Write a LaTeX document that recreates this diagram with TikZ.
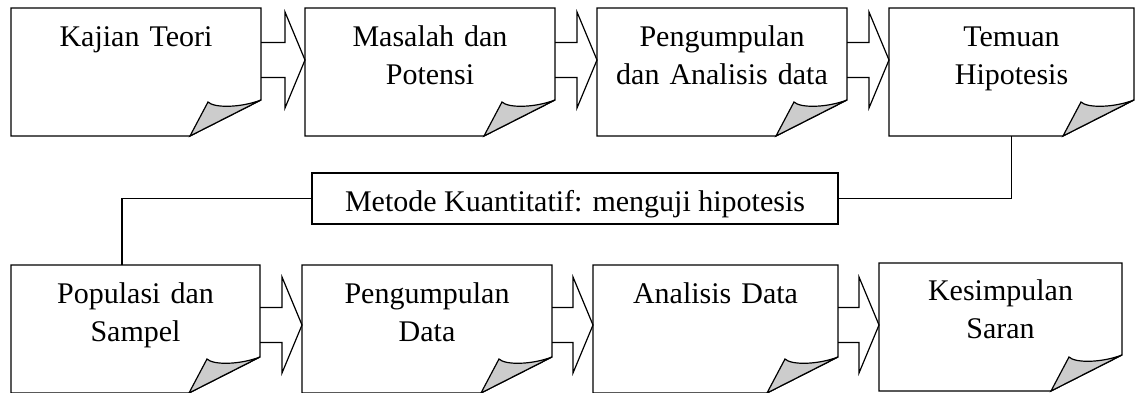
\documentclass[tikz,border=0pt]{standalone}
\usepackage{fontspec}
\setmainfont{Liberation Serif}
\usetikzlibrary{calc}

% page with a turned-down corner, drawn round an empty node
\newcommand{\pagefold}[1]{%
  \draw[pageline, fill=white] (#1.north west) -- (#1.north east) -- ([yshift=36pt]#1.south east)
    -- ([xshift=-71pt]#1.south east) -- (#1.south west) -- cycle;
  \draw[pageline, fill=black!20] ([xshift=-71pt]#1.south east) -- ([xshift=-53pt,yshift=34pt]#1.south east)
    .. controls ([xshift=-47pt,yshift=28pt]#1.south east) and ([xshift=-21pt,yshift=28pt]#1.south east)
    .. ([yshift=36pt]#1.south east) -- cycle;}

% block arrow from one page to the next, axis at height #3
\newcommand{\blockarrow}[3]{%
  \draw[pageline] let \p1=(#1.east), \p2=(#2.west) in
    (\x1,{#3pt+17.5pt}) -- ({\x2-20pt},{#3pt+17.5pt}) -- ({\x2-20pt},{#3pt+48pt})
    -- (\x2,#3pt) -- ({\x2-20pt},{#3pt-48pt}) -- ({\x2-20pt},{#3pt-17.5pt})
    -- (\x1,{#3pt-17.5pt});}

\begin{document}
\begin{tikzpicture}[x=1pt, y=1pt,
    every node/.style={font=\fontsize{30}{38.5}\selectfont},
    page/.style={minimum height=128pt, inner sep=0pt, outer sep=0pt, anchor=north west},
    pagetext/.style={text width=240pt, align=center, anchor=base, inner sep=0pt},
    pageline/.style={line width=1.2pt},
    link/.style={line width=1.2pt}]
\useasboundingbox (0,0) rectangle (1135,-392);

% top row
\node[page, minimum width=250pt] (kajian) at (11,-8) {};
\pagefold{kajian}
\node[pagetext] (kajian-t) at ([yshift=-38pt]kajian.north) {Kajian Teori};

\node[page, minimum width=250pt] (masalah) at (305,-8) {};
\pagefold{masalah}
\node[pagetext] (masalah-t) at ([yshift=-38pt]masalah.north) {Masalah dan\\Potensi};

\node[page, minimum width=250pt] (pengumpulan) at (597,-8) {};
\pagefold{pengumpulan}
\node[pagetext] (pengumpulan-t) at ([yshift=-38pt]pengumpulan.north) {Pengumpulan\\dan Analisis data};

\node[page, minimum width=245pt] (temuan) at (889,-8) {};
\pagefold{temuan}
\node[pagetext] (temuan-t) at ([yshift=-38pt]temuan.north) {Temuan\\Hipotesis};

\blockarrow{kajian}{masalah}{-60}
\blockarrow{masalah}{pengumpulan}{-60}
\blockarrow{pengumpulan}{temuan}{-60}

% middle
\node[draw, line width=1.2pt, minimum width=526pt, minimum height=51pt, inner sep=0pt,
      text height=30pt, text depth=5pt] (metode) at (575,-198.5)
      {Metode Kuantitatif: menguji hipotesis};

% bottom row
\node[page, minimum width=249pt] (populasi) at (11,-265) {};
\pagefold{populasi}
\node[pagetext] (populasi-t) at ([yshift=-38pt]populasi.north) {Populasi dan\\Sampel};

\node[page, minimum width=250pt] (pengdata) at (302,-265) {};
\pagefold{pengdata}
\node[pagetext] (pengdata-t) at ([yshift=-38pt]pengdata.north) {Pengumpulan\\Data};

\node[page, minimum width=245pt] (analisis) at (593,-265) {};
\pagefold{analisis}
\node[pagetext] (analisis-t) at ([yshift=-38pt]analisis.north) {Analisis Data};

\node[page, minimum width=243pt] (kesimpulan) at (879,-263) {};
\pagefold{kesimpulan}
\node[pagetext] (kesimpulan-t) at ([yshift=-37pt]kesimpulan.north) {Kesimpulan\\Saran};

\blockarrow{populasi}{pengdata}{-325}
\blockarrow{pengdata}{analisis}{-325}
\blockarrow{analisis}{kesimpulan}{-325}

\draw[link] (temuan.south) |- (metode.east);
\draw[link] (metode.west) -| ([xshift=-13.5pt]populasi.north);
\end{tikzpicture}
\end{document}
